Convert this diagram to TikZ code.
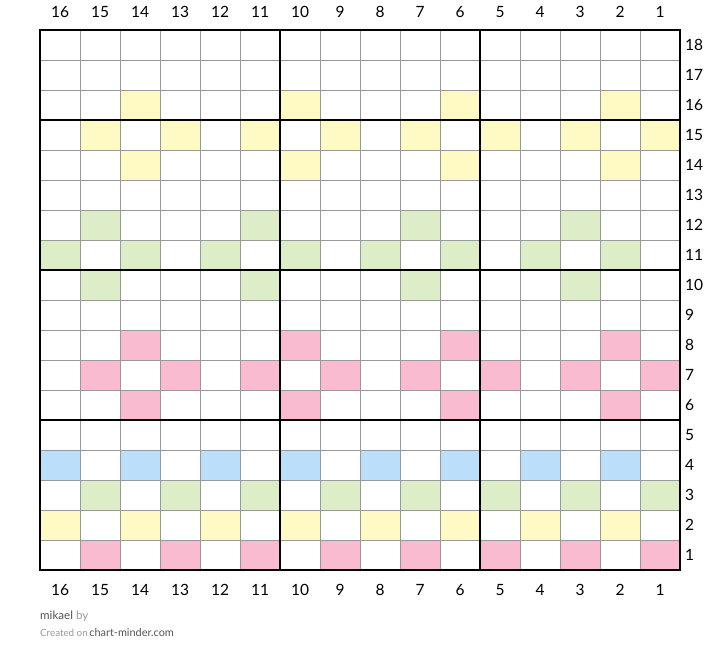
\documentclass[tikz,border=0pt]{standalone}
\usepackage{fontspec}
\setmainfont{Lato}
\definecolor{cy}{HTML}{FFF9C4}
\definecolor{cp}{HTML}{F8BBD0}
\definecolor{cg}{HTML}{DCEDC8}
\definecolor{cb}{HTML}{BBDEFB}
\definecolor{thin}{HTML}{999999}
\definecolor{dk}{HTML}{555555}
\definecolor{lt}{HTML}{9A9A9A}
\newcommand\cellfill[3]{\fill[#3] ({40+(16-#1)*40},{30+(18-#2)*30}) rectangle ++(40,30);}
\begin{document}
\begin{tikzpicture}[x=1pt,y=-1pt,
  thinline/.style={draw=thin,line width=0.9pt},
  thickline/.style={draw=black,line width=2.4pt,line cap=rect},
  numlabel/.style={font=\fontsize{15.5}{15.5}\selectfont,text=black,inner sep=0pt}]
\useasboundingbox (0,0) rectangle (720,663);
\fill[white] (0,0) rectangle (720,663);
\foreach \c in {2,6,10,14} {\cellfill{\c}{16}{cy}\cellfill{\c}{14}{cy}\cellfill{\c}{8}{cp}\cellfill{\c}{6}{cp}}
\foreach \c in {3,7,11,15} {\cellfill{\c}{12}{cg}\cellfill{\c}{10}{cg}}
\foreach \c in {1,3,5,7,9,11,13,15} {\cellfill{\c}{15}{cy}\cellfill{\c}{7}{cp}\cellfill{\c}{3}{cg}\cellfill{\c}{1}{cp}}
\foreach \c in {2,4,6,8,10,12,14,16} {\cellfill{\c}{11}{cg}\cellfill{\c}{4}{cb}\cellfill{\c}{2}{cy}}
% thin grid
\foreach \i in {0,...,16} {\draw[thinline] ({40+40*\i},30) -- ({40+40*\i},570);}
\foreach \j in {0,...,18} {\draw[thinline] (40,{30+30*\j}) -- (680,{30+30*\j});}
% thick grid
\foreach \x in {40,280,480,680} {\draw[thickline] (\x,30) -- (\x,570);}
\foreach \y in {30,120,270,420,570} {\draw[thickline] (40,\y) -- (680,\y);}
% column labels
\foreach \c in {1,...,16} {
  \node[numlabel] (top\c) at ({60+(16-\c)*40},12) {\c};
  \node[numlabel] (bot\c) at ({60+(16-\c)*40},590) {\c};
}
% row labels
\foreach \r in {1,...,18} {
  \node[numlabel,anchor=west] (row\r) at (685,{45+(18-\r)*30}) {\r};
}
% footer
\node[anchor=base west,inner sep=0pt,font=\fontsize{11.6}{12}\selectfont] (author) at (40,619) {\textcolor{dk}{mikael} \textcolor{lt}{by}};
\node[anchor=base west,inner sep=0pt] (credit) at (40,636) {\fontsize{9.8}{10}\selectfont\textcolor{lt}{Created on}\,\fontsize{10.9}{11}\selectfont\textcolor{dk}{chart-minder.com}};
\end{tikzpicture}
\end{document}
